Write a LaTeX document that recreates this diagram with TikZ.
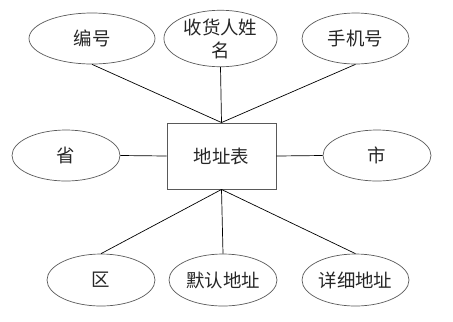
\documentclass[tikz,border=0pt]{standalone}
\usepackage{fontspec}
\newfontfamily\cjk{Noto Sans CJK SC}
\usetikzlibrary{shapes.geometric}
\tikzset{
  attr/.style={ellipse, draw=black!65, line width=0.7bp, inner sep=0pt, minimum height=51bp, font=\cjk\fontsize{18.5}{23}\selectfont, text=black!85},
  ent/.style={rectangle, draw=black!65, line width=0.9bp, minimum width=109bp, minimum height=66bp, font=\cjk\fontsize{18.5}{23}\selectfont, text=black!85},
  conn/.style={draw=black, line width=0.7bp}
}
\begin{document}
\begin{tikzpicture}[x=1bp,y=-1bp]
\useasboundingbox (0,0) rectangle (453,321);
\node[ent] (t) at (221.5,156) {地址表};
\node[attr, minimum width=126bp] (a1) at (92,38.5) {编号};
\node[attr, minimum width=107bp, align=center, text width=80bp] (a2) at (220.5,38.5) {收货人姓\\名};
\node[attr, minimum width=107bp] (a3) at (355.5,38.5) {手机号};
\node[attr, minimum width=108bp] (a4) at (66,155.5) {省};
\node[attr, minimum width=108bp] (a5) at (377,155.5) {市};
\node[attr, minimum width=108bp, minimum height=52bp] (a6) at (101,280) {区};
\node[attr, minimum width=108bp, minimum height=52bp] (a7) at (223,280) {默认地址};
\node[attr, minimum width=107bp, minimum height=52bp] (a8) at (355.5,280) {详细地址};
\draw[conn] (a1.south) -- (t.north);
\draw[conn] (a2.south) -- (t.north);
\draw[conn] (a3.south) -- (t.north);
\draw[conn] (a4.east) -- (t.west);
\draw[conn] (t.east) -- (a5.west);
\draw[conn] (t.south) -- (a6.north);
\draw[conn] (t.south) -- (a7.north);
\draw[conn] (t.south) -- (a8.north);
\end{tikzpicture}
\end{document}
